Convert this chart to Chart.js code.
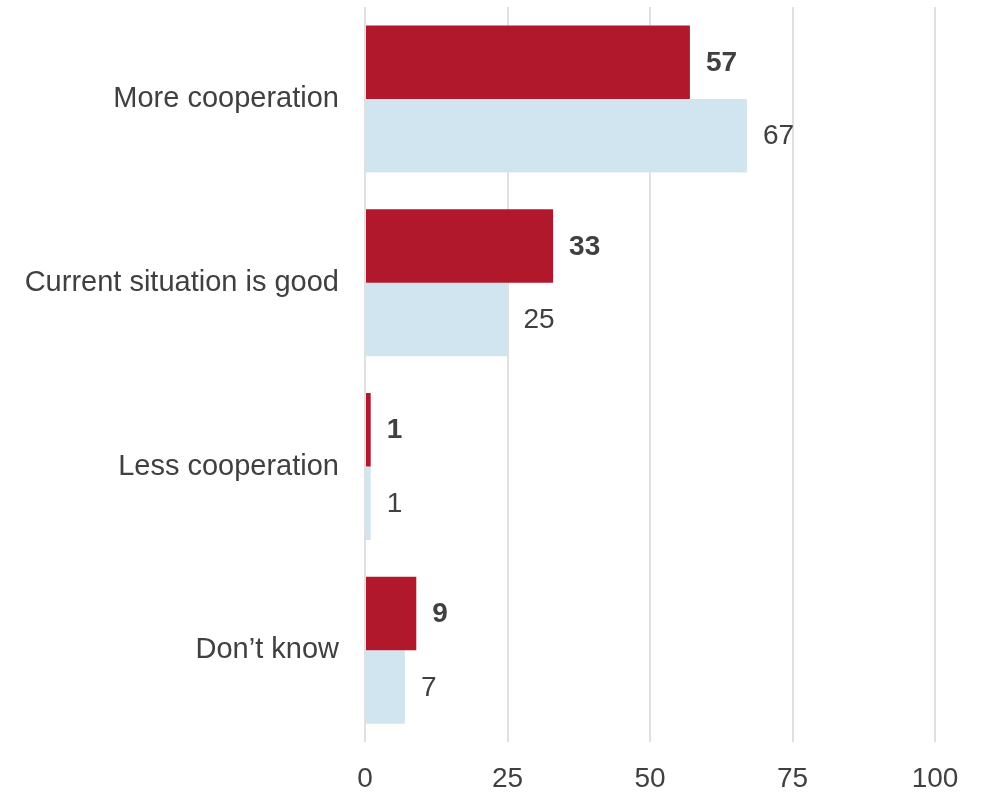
<!DOCTYPE html>
<html>
<head>
<meta charset="utf-8">
<script src="https://cdn.jsdelivr.net/npm/chart.js@4"></script>
<style>
  html, body { margin: 0; padding: 0; background: #fff; }
  #wrap { width: 989px; height: 792px; }
</style>
</head>
<body>
<div id="wrap"><canvas id="barChart"></canvas></div>
<script>
const categories = ['More cooperation', 'Current situation is good', 'Less cooperation', 'Don\u2019t know'];
const redValues = [57, 33, 1, 9];
const blueValues = [67, 25, 1, 7];
const xTicks = [0, 25, 50, 75, 100];

const textColor = '#404040';
const fontFamily = '"Liberation Sans", Arial, sans-serif';

// draws the value next to the end of each bar
const valueLabels = {
  id: 'valueLabels',
  afterDatasetsDraw(chart) {
    const ctx = chart.ctx;
    chart.data.datasets.forEach((ds, i) => {
      const meta = chart.getDatasetMeta(i);
      ctx.save();
      ctx.font = (i === 0 ? 'bold ' : '') + '28px ' + fontFamily;
      ctx.fillStyle = textColor;
      ctx.textAlign = 'left';
      ctx.textBaseline = 'middle';
      meta.data.forEach((bar, j) => {
        ctx.fillText(ds.data[j], bar.x + 16, bar.y + 1);
      });
      ctx.restore();
    });
  }
};

const ctx = document.getElementById('barChart').getContext('2d');
new Chart(ctx, {
  type: 'bar',
  data: {
    labels: categories,
    datasets: [
      {
        label: 'Red',
        data: redValues,
        backgroundColor: '#b2182b',
        categoryPercentage: 0.8,
        barPercentage: 1.0
      },
      {
        label: 'Blue',
        data: blueValues,
        backgroundColor: '#d1e5f0',
        categoryPercentage: 0.8,
        barPercentage: 1.0
      }
    ]
  },
  options: {
    indexAxis: 'y',
    responsive: true,
    maintainAspectRatio: false,
    animation: false,
    layout: {
      padding: { top: 7, right: 54, bottom: -25, left: 0 }
    },
    plugins: {
      legend: { display: false },
      tooltip: { enabled: false }
    },
    scales: {
      x: {
        min: 0,
        max: 100,
        afterBuildTicks: (scale) => {
          scale.ticks = xTicks.map(v => ({ value: v }));
        },
        grid: {
          color: '#e0e0e0',
          lineWidth: 2,
          drawTicks: false
        },
        border: { display: false },
        ticks: {
          color: textColor,
          padding: 22,
          font: { family: fontFamily, size: 28, lineHeight: 1.1 }
        }
      },
      y: {
        afterFit: (scale) => {
          scale.width = 365;
          scale.paddingTop = 0;
          scale.paddingBottom = 0;
        },
        grid: { display: false },
        border: { display: false },
        ticks: {
          color: textColor,
          padding: 18,
          font: { family: fontFamily, size: 29 }
        }
      }
    }
  },
  plugins: [valueLabels]
});
</script>
</body>
</html>
